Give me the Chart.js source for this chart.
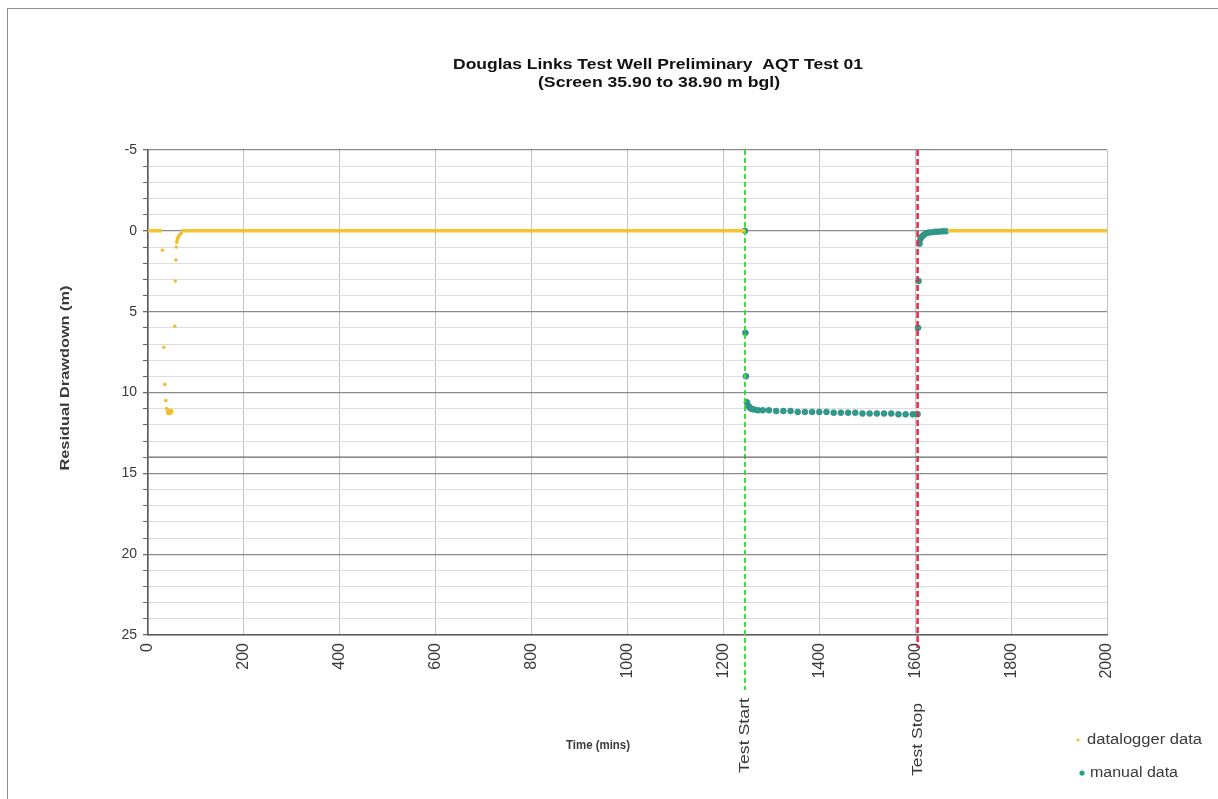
<!DOCTYPE html>
<html>
<head>
<meta charset="utf-8">
<title>Douglas Links Test Well Preliminary AQT Test 01</title>
<script src="https://cdn.jsdelivr.net/npm/chart.js@4.4.1/dist/chart.umd.min.js"></script>
<style>
    html, body { margin: 0; padding: 0; background: #fff; }
    #wrap { position: relative; width: 1218px; height: 799px; overflow: hidden; }
    #frame { position: absolute; left: 7px; top: 8px; width: 1230px; height: 800px;
             border-top: 1px solid #8f8f8f; border-left: 1px solid #8f8f8f; }
    #myChart { position: absolute; left: 0; top: 0; }
</style>
</head>
<body>
<div id="wrap">
    <div id="frame"></div>
    <canvas id="myChart" width="1218" height="799"></canvas>
</div>
<script>
    const titleLines = ['Douglas Links Test Well Preliminary  AQT Test 01', '(Screen 35.90 to 38.90 m bgl)'];

    // datalogger readings during the early drawdown check (mins, m)
    const loggerTime = [30, 33, 35, 37, 39, 41, 42, 43, 44, 45, 46, 47, 48, 50, 56, 57, 58, 59, 60, 61, 62, 64, 66, 69];
    const loggerDrawdown = [1.2, 7.2, 9.5, 10.5, 11.0, 11.2, 11.3, 11.1, 11.3, 11.2, 11.3, 11.2, 11.1, 11.2, 5.9, 3.1, 1.8, 1.0, 0.7, 0.55, 0.45, 0.35, 0.25, 0.15];

    // continuous logger record at rest level (null = break in the record)
    const traceTime = [0, 29, null, 70, 1245, null, 1668, 2000];
    const traceDrawdown = [0, 0, null, 0, 0, null, 0, 0];

    // manual dips
    const manualTime = [1245, 1246, 1247, 1249, 1251, 1254, 1258, 1264, 1272, 1282, 1295, 1310, 1325, 1340, 1355, 1370,
        1385, 1400, 1415, 1430, 1445, 1460, 1475, 1490, 1505, 1520, 1535, 1550, 1565, 1580, 1595, 1605,
        1606, 1607, 1609, 1611, 1614, 1618, 1623, 1629, 1636, 1643, 1650, 1657, 1664];
    const manualDrawdown = [0.0, 6.3, 9.0, 10.6, 10.8, 10.9, 11.0, 11.05, 11.1, 11.1, 11.1, 11.15, 11.15, 11.15, 11.2, 11.2,
        11.2, 11.2, 11.2, 11.25, 11.25, 11.25, 11.25, 11.3, 11.3, 11.3, 11.3, 11.3, 11.35, 11.35, 11.35, 11.35,
        6.0, 3.1, 0.8, 0.5, 0.35, 0.25, 0.15, 0.1, 0.08, 0.05, 0.05, 0.03, 0.02];

    const pumpLevel = 14;
    const testStart = 1245;
    const testStop = 1605;

    const xTicks = { min: 0, max: 2000, step: 200 };
    const yTicks = { min: -5, max: 25, step: 5 };

    const toPoints = (xs, ys) => xs.map((x, i) => ({ x: x, y: ys[i] }));

    const textColor = '#3a3a3a';
    const fontFamily = '"Liberation Sans", Arial, sans-serif';

    // the original export is a bit stretched, so text is drawn to a target length
    function drawText(ctx, text, x, y, font, length, angle, align) {
        ctx.save();
        ctx.font = font;
        ctx.textAlign = align || 'center';
        ctx.translate(x, y);
        ctx.rotate(angle || 0);
        const w = ctx.measureText(text).width;
        if (length) ctx.scale(length / w, 1);
        ctx.fillText(text, 0, 0);
        ctx.restore();
    }

    const chartText = {
        id: 'chartText',
        afterDraw(chart) {
            const ctx = chart.ctx;
            const x = chart.scales.x;
            const up = -Math.PI / 2;
            ctx.save();
            ctx.textBaseline = 'middle';
            ctx.fillStyle = '#111';
            drawText(ctx, titleLines[0], 658, 65, 'bold 15px ' + fontFamily, 410);
            drawText(ctx, titleLines[1], 659, 83, 'bold 15px ' + fontFamily, 242);

            ctx.fillStyle = textColor;
            drawText(ctx, 'Time (mins)', 598, 745, 'bold 13px ' + fontFamily, 64);
            drawText(ctx, 'Residual Drawdown (m)', 65, 378, 'bold 13px ' + fontFamily, 185, up);

            // event labels under the axis
            drawText(ctx, 'Test Start', x.getPixelForValue(testStart), 773, '15px ' + fontFamily, 75, up, 'left');
            drawText(ctx, 'Test Stop', x.getPixelForValue(testStop), 776, '15px ' + fontFamily, 73, up, 'left');

            // legend
            ctx.fillStyle = '#f2c12e';
            ctx.beginPath();
            ctx.arc(1078, 740, 1.6, 0, Math.PI * 2);
            ctx.fill();
            ctx.fillStyle = textColor;
            drawText(ctx, 'datalogger data', 1087, 740, '14px ' + fontFamily, 115, 0, 'left');
            ctx.fillStyle = '#2f9c8b';
            ctx.beginPath();
            ctx.arc(1082, 773, 2.6, 0, Math.PI * 2);
            ctx.fill();
            ctx.fillStyle = textColor;
            drawText(ctx, 'manual data', 1090, 773, '14px ' + fontFamily, 88, 0, 'left');
            ctx.restore();
        }
    };

    const myChart = new Chart(document.getElementById('myChart'), {
        type: 'scatter',
        data: {
            datasets: [
                {
                    label: 'pump level',
                    data: toPoints([xTicks.min, xTicks.max], [pumpLevel, pumpLevel]),
                    showLine: true,
                    borderColor: '#6e6e6e',
                    borderWidth: 1.3,
                    pointRadius: 0,
                },
                {
                    label: 'datalogger trace',
                    data: toPoints(traceTime, traceDrawdown),
                    showLine: true,
                    spanGaps: false,
                    borderColor: '#f5c430',
                    borderWidth: 3.5,
                    pointRadius: 0,
                },
                {
                    label: 'datalogger data',
                    data: toPoints(loggerTime, loggerDrawdown),
                    backgroundColor: '#efbf2c',
                    borderWidth: 0,
                    pointRadius: 1.8,
                },
                {
                    label: 'Test Start',
                    data: toPoints([testStart, testStart], [yTicks.min, 28.4]),
                    showLine: true,
                    clip: false,
                    borderColor: '#45d545',
                    borderDash: [5, 3],
                    borderWidth: 2,
                    pointRadius: 0,
                },
                {
                    label: 'Test Stop',
                    data: toPoints([testStop, testStop], [yTicks.min, 25.8]),
                    showLine: true,
                    clip: false,
                    borderColor: '#e02a4c',
                    borderDash: [6, 3],
                    borderWidth: 2.5,
                    pointRadius: 0,
                },
                {
                    label: 'manual data',
                    data: toPoints(manualTime, manualDrawdown),
                    backgroundColor: '#2f9c8b',
                    borderColor: '#2a7f73',
                    borderWidth: 0.5,
                    pointRadius: 3,
                },
            ]
        },
        options: {
            responsive: false,
            animation: false,
            layout: {
                padding: { left: 0, top: 150, right: 111, bottom: 114 }
            },
            plugins: {
                legend: { display: false },
                title: { display: false },
                tooltip: { enabled: false }
            },
            scales: {
                x: {
                    type: 'linear',
                    min: xTicks.min,
                    max: xTicks.max,
                    ticks: {
                        stepSize: xTicks.step,
                        autoSkip: false,
                        minRotation: 90,
                        maxRotation: 90,
                        padding: 8,
                        color: textColor,
                        font: { family: fontFamily, size: 16 },
                        callback: v => String(v)
                    },
                    grid: { color: '#c4c4c4', lineWidth: 1, drawTicks: false },
                    border: { color: '#5a5a5a', width: 1.5 },
                    afterFit(scale) { scale.height = 50; }
                },
                y: {
                    reverse: true,
                    min: yTicks.min,
                    max: yTicks.max,
                    ticks: {
                        stepSize: 1,
                        autoSkip: false,
                        padding: 6,
                        color: textColor,
                        font: { family: fontFamily, size: 14 },
                        callback: v => (v % yTicks.step === 0 ? v : '')
                    },
                    grid: {
                        color: ctx => (ctx.tick && ctx.tick.value % yTicks.step === 0 ? '#8a8a8a' : '#dedede'),
                        lineWidth: ctx => (ctx.tick && ctx.tick.value % yTicks.step === 0 ? 1.3 : 1),
                        tickColor: '#6a6a6a',
                        tickLength: 5
                    },
                    border: { color: '#5a5a5a', width: 1.5 },
                    afterFit(scale) { scale.width = 148; }
                }
            }
        },
        plugins: [chartText]
    });
</script>
</body>
</html>
